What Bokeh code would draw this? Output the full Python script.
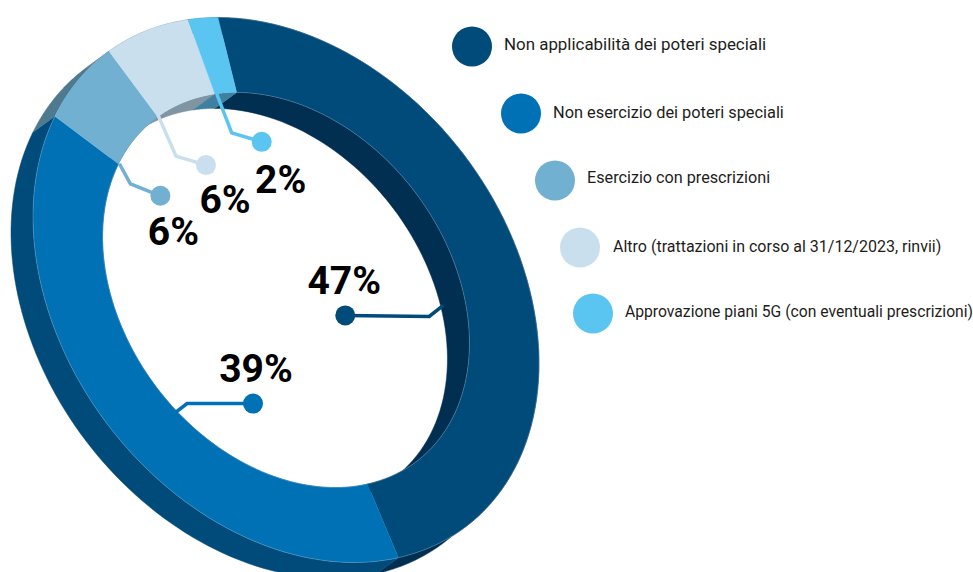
import numpy as np
from bokeh.plotting import figure
from bokeh.models import Range1d
from bokeh.embed import file_html
from bokeh.resources import INLINE
from bokeh.core.properties import value

# ---- data ----
categories = ["Non applicabilità dei poteri speciali",
              "Non esercizio dei poteri speciali",
              "Esercizio con prescrizioni",
              "Altro (trattazioni in corso al 31/12/2023, rinvii)",
              "Approvazione piani 5G (con eventuali prescrizioni)"]
values = [47, 39, 6, 6, 2]
labels = ["47%", "39%", "6%", "6%", "2%"]

# ---- styles ----
face_colors = ["#004b7a", "#0071b5", "#71b0d1", "#c9dfee", "#5bc5f2"]
outer_wall_colors = ["#002f52", "#004b7a", "#4d7a8f", "#7f95a3", "#3f7f9f"]
inner_wall_colors = ["#002f52", "#004b7a", "#4d7a8f", "#7f95a3", "#3f7f9f"]
TEXT = "#1d1d1b"
LEGEND_FONT = "Roboto"
LABEL_FONT = "Roboto"
legend_font_sizes = ["16.9px", "16.35px", "16.2px", "16px", "15.7px"]

# ---- layout of the tilted ring (page pixels) ----
CX, CY = 285.5, 289.5
U = np.array([-68.0, -272.5])
V = np.array([243.7, 0.0])
R_IN = 0.725
DEPTH = np.array([-22.0, 16.0])

leader_offsets = [((-14, 34), (-28, 45), (-112, 44)),
                  ((15, 23), (28, 13), (94, 13)),
                  ((-16, 26), (-5, 46), (25, 58)),
                  ((-26.5, 13), (-8.5, 54), (21.5, 63)),
                  ((-9, 1), (6, 40), (36, 49))]
label_offsets = [(-1, -34), (3, -35), (13, 36), (19, 35), (19, 38)]
legend_dots = [(471.5, 46), (520.5, 113), (554.5, 180), (579.5, 247), (592.5, 313)]
legend_text_x = [503.5, 552.5, 586.5, 612.5, 624.5]
legend_text_y = [43, 112, 177, 246, 311]


def arc(t0, t1, r, back=False, n=80):
    t = np.radians(np.linspace(t0, t1, n))
    pts = np.array([CX, CY]) + r * (np.outer(np.cos(t), U) + np.outer(np.sin(t), V))
    if back:
        pts = pts + DEPTH
    return pts


p = figure(width=973, height=572, output_backend="svg", toolbar_location=None,
           x_range=Range1d(0, 973), y_range=Range1d(572, 0),
           x_axis_location=None, y_axis_location=None, min_border=0)
p.grid.visible = False
p.outline_line_color = None
p.background_fill_color = "white"

edges = np.cumsum([0] + values) / sum(values) * 360.0
spans = list(zip(edges[:-1], edges[1:]))

# walls (behind the faces)
for (a, b), oc, ic in zip(spans, outer_wall_colors, inner_wall_colors):
    for r, c in ((1.0, oc), (R_IN, ic)):
        f = arc(a, b, r)
        k = arc(a, b, r, back=True)[::-1]
        q = np.vstack([f, k])
        p.patch(q[:, 0], q[:, 1], fill_color=c, line_color=c, line_width=0.5)

# faces
for (a, b), c in zip(spans, face_colors):
    q = np.vstack([arc(a, b, 1.0), arc(a, b, R_IN)[::-1]])
    p.patch(q[:, 0], q[:, 1], fill_color=c, line_color=c, line_width=0.3)

# thin light seams round the front face
for r in (1.0, R_IN):
    q = arc(0, edges[2], r, n=200)
    p.line(q[:, 0], q[:, 1], line_color="#ffffff", line_alpha=0.4, line_width=0.5)

# leaders, dots and value labels
for (a, b), c, off, lab, lo in zip(spans, face_colors, leader_offsets, labels, label_offsets):
    anchor = arc((a + b) / 2, (a + b) / 2, R_IN, n=1)[0]
    xs = [anchor[0] + o[0] for o in off]
    ys = [anchor[1] + o[1] for o in off]
    p.line(xs, ys, line_color=c, line_width=3.5, line_join="miter")
    p.scatter([xs[-1]], [ys[-1]], size=20, marker="circle", fill_color=c, line_color=None)
    p.text([xs[-1] + lo[0]], [ys[-1] + lo[1]], text=[lab], text_align="center",
           text_baseline="middle", text_color="#000000",
           text_font=value(LABEL_FONT), text_font_style="bold", text_font_size="39px")

# legend
p.scatter([d[0] for d in legend_dots], [d[1] for d in legend_dots], size=40, marker="circle",
          fill_color=face_colors, line_color=None)
for tx, ty, cat, fs in zip(legend_text_x, legend_text_y, categories, legend_font_sizes):
    p.text([tx], [ty], text=[cat], text_align="left", text_baseline="middle",
           text_color=TEXT, text_font=value(LEGEND_FONT), text_font_size=value(fs))

open("out.html", "w").write(file_html(p, INLINE))
